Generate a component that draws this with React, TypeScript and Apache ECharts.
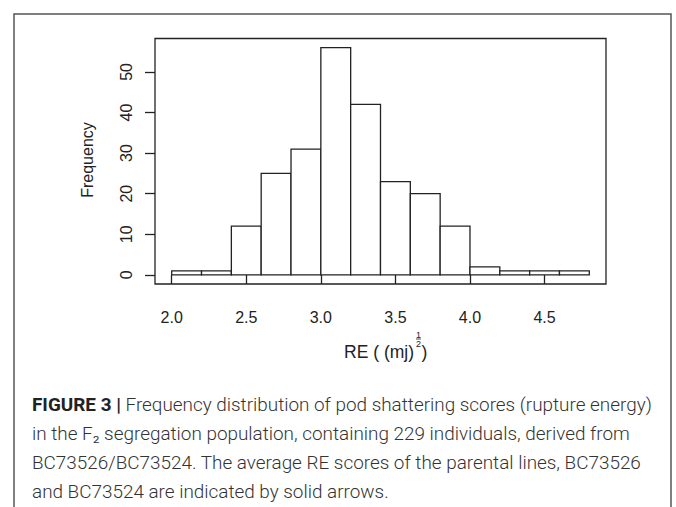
import React, { useEffect, useRef } from "react";
import * as echarts from "echarts";

const binEdges = [2.0, 2.2, 2.4, 2.6, 2.8, 3.0, 3.2, 3.4, 3.6, 3.8, 4.0, 4.2, 4.4, 4.6, 4.8];
const frequencies = [1, 1, 12, 25, 31, 56, 42, 23, 20, 12, 2, 1, 1, 1];
const xTicks = [2.0, 2.5, 3.0, 3.5, 4.0, 4.5];
const yTicks = [0, 10, 20, 30, 40, 50];
const yTitle = "Frequency";
const xTitleMain = "RE ( (mj)";
const captionBold = "FIGURE 3 |";
const captionLines = [
  " Frequency distribution of pod shattering scores (rupture energy)",
  "in the F₂ segregation population, containing 229 individuals, derived from",
  "BC73526/BC73524. The average RE scores of the parental lines, BC73526",
  "and BC73524 are indicated by solid arrows.",
];

export default function App() {
  const ref = useRef<HTMLDivElement>(null);
  useEffect(() => {
    if (!ref.current) return;
    const chart = echarts.init(ref.current, undefined, { renderer: "svg" });
    const xMinData = binEdges[0];
    const xMaxData = binEdges[binEdges.length - 1];
    const xPad = (xMaxData - xMinData) * 0.04;
    const yMaxData = Math.max(...frequencies);
    const yPad = yMaxData * 0.04;
    const data = frequencies.map((f, i) => [binEdges[i], binEdges[i + 1], f]);
    const ink = "#222";
    const font = "'Liberation Sans', Arial, sans-serif";
    const capFont = "Roboto, 'Liberation Sans', sans-serif";
    const capTop = 404;
    const capStep = 29;
    const capSize = 18.9;

    chart.setOption({
      animation: false,
      backgroundColor: "#fff",
      grid: {
        left: 155,
        top: 38.5,
        width: 451,
        height: 245.5,
        show: true,
        borderColor: ink,
        borderWidth: 1.3,
        backgroundColor: "transparent",
      },
      xAxis: {
        type: "value",
        min: xMinData - xPad,
        max: xMaxData + xPad,
        splitLine: { show: false },
        axisLine: { show: false },
        axisTick: {
          show: true,
          customValues: xTicks,
          length: 9,
          lineStyle: { color: ink, width: 1.3 },
        },
        axisLabel: {
          customValues: xTicks,
          formatter: (v: number) => v.toFixed(1),
          color: ink,
          fontSize: 16,
          fontFamily: font,
          margin: 25,
        },
      },
      yAxis: {
        type: "value",
        min: -yPad,
        max: yMaxData + yPad,
        splitLine: { show: false },
        axisLine: { show: false },
        axisTick: {
          show: true,
          customValues: yTicks,
          length: 10,
          lineStyle: { color: ink, width: 1.3 },
        },
        axisLabel: {
          customValues: yTicks,
          rotate: 90,
          color: ink,
          fontSize: 16,
          fontFamily: font,
          margin: 21,
        },
      },
      series: [
        {
          type: "custom",
          data,
          encode: { x: [0, 1], y: 2 },
          renderItem: (params: any, api: any) => {
            const p0 = api.coord([api.value(0), api.value(2)]);
            const p1 = api.coord([api.value(1), 0]);
            return {
              type: "rect",
              shape: { x: p0[0], y: p0[1], width: p1[0] - p0[0], height: p1[1] - p0[1] },
              style: { fill: "#fff", stroke: ink, lineWidth: 1.3 },
            };
          },
        },
      ],
      graphic: [
        {
          type: "rect",
          shape: { x: 14, y: 14, width: 657, height: 520 },
          style: { fill: "none", stroke: "#555", lineWidth: 1.5 },
          silent: true,
        },
        {
          type: "text",
          x: 87,
          y: 160,
          rotation: Math.PI / 2,
          style: {
            text: yTitle,
            fill: ink,
            font: `16px ${font}`,
            align: "center",
            verticalAlign: "middle",
          },
        },
        {
          type: "text",
          x: 414,
          y: 352,
          style: {
            text: xTitleMain,
            fill: ink,
            font: `17.5px ${font}`,
            align: "right",
            verticalAlign: "middle",
          },
        },
        {
          type: "text",
          x: 418.5,
          y: 335,
          style: { text: "1", fill: ink, font: `9px ${font}`, align: "center", verticalAlign: "middle" },
        },
        {
          type: "line",
          shape: { x1: 416, y1: 339, x2: 421, y2: 339 },
          style: { stroke: ink, lineWidth: 0.8 },
        },
        {
          type: "text",
          x: 418.5,
          y: 343.5,
          style: { text: "2", fill: ink, font: `9px ${font}`, align: "center", verticalAlign: "middle" },
        },
        {
          type: "text",
          x: 421.5,
          y: 352,
          style: { text: ")", fill: ink, font: `17.5px ${font}`, align: "left", verticalAlign: "middle" },
        },
        ...captionLines.map((line, i) => ({
          type: "text",
          x: 32,
          y: capTop + i * capStep,
          style:
            i === 0
              ? {
                  text: `{b|${captionBold}}{n|${line}}`,
                  verticalAlign: "middle",
                  align: "left",
                  rich: {
                    b: { font: `bold ${capSize}px ${capFont}`, fill: "#222" },
                    n: { font: `300 ${capSize}px ${capFont}`, fill: "#333" },
                  },
                }
              : {
                  text: line,
                  font: `300 ${capSize}px ${capFont}`,
                  fill: "#333",
                  align: "left",
                  verticalAlign: "middle",
                },
        })),
      ],
    });
    return () => chart.dispose();
  }, []);
  return (
    <div
      ref={ref}
      style={{ position: "fixed", left: 0, top: 0, width: 676, height: 507, background: "#fff" }}
    />
  );
}
